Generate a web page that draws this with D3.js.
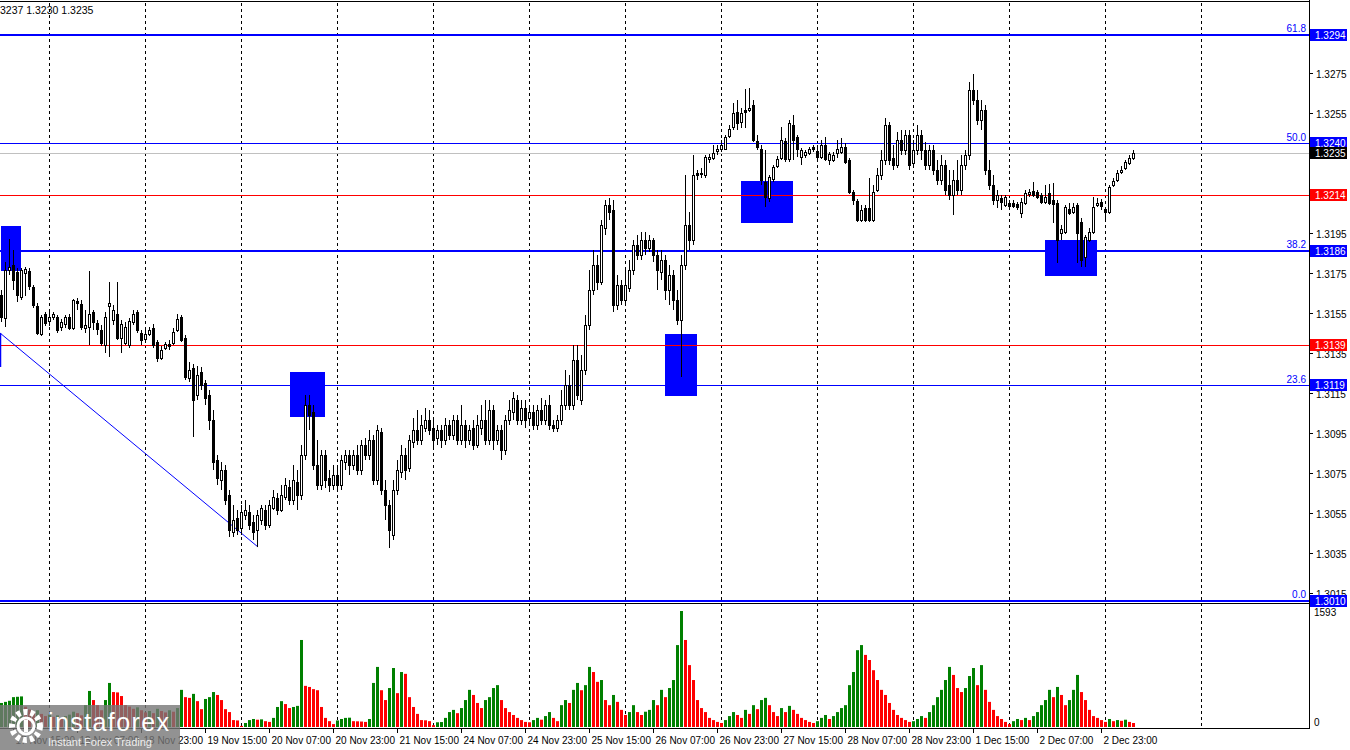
<!DOCTYPE html>
<html><head><meta charset="utf-8">
<script src="https://cdn.jsdelivr.net/npm/d3@7"></script>
<style>html,body{margin:0;padding:0;background:#fff;overflow:hidden}text{font-family:"Liberation Sans",Arial,sans-serif}</style>
</head><body><svg id="c" width="1350" height="750"></svg>
<script>
const opens=[1.3164,1.31525,1.31765,1.3179,1.31755,1.3163,1.3175,1.3176,1.3168,1.31585,
1.31445,1.31545,1.3151,1.3153,1.3153,1.3148,1.31495,1.3153,1.31475,1.3161,
1.31595,1.31475,1.3148,1.31555,1.315,1.31465,1.3139,1.31585,1.31515,1.31545,
1.31425,1.314,1.3139,1.31505,1.31555,1.3145,1.3142,1.31445,1.31475,1.31405,
1.31325,1.31375,1.31395,1.314,1.31465,1.3153,1.31425,1.31225,1.31275,1.3114,
1.31255,1.312,1.3114,1.31015,1.30815,1.30715,1.30765,1.3064,1.30455,1.30525,
1.30475,1.3054,1.30555,1.30505,1.30465,1.30515,1.30565,1.3049,1.30575,1.30625,
1.30565,1.3063,1.3068,1.30615,1.30705,1.3064,1.3084,1.3109,1.31055,1.3079,
1.3069,1.3084,1.30725,1.3069,1.3074,1.3069,1.30805,1.3084,1.3079,1.3084,
1.30765,1.3089,1.3084,1.30915,1.30715,1.30955,1.30665,1.3059,1.3044,1.30665,
1.30755,1.3084,1.30775,1.30905,1.30965,1.30915,1.30975,1.31015,1.30975,1.30925,
1.30965,1.30915,1.3099,1.3094,1.31015,1.30915,1.3099,1.30915,1.30975,1.3089,
1.30975,1.31015,1.30915,1.31065,1.30915,1.30965,1.30865,1.31015,1.31055,1.31115,
1.31015,1.31075,1.31025,1.31055,1.3099,1.31065,1.31015,1.3109,1.3099,1.30975,
1.31015,1.3109,1.3119,1.3109,1.31315,1.31115,1.31265,1.3149,1.31665,1.3179,
1.31705,1.31975,1.3209,1.32065,1.3159,1.3169,1.31615,1.31675,1.31765,1.3189,
1.3184,1.31915,1.31875,1.31915,1.3184,1.31755,1.31815,1.31665,1.3174,1.31615,
1.31515,1.3179,1.3199,1.31915,1.3225,1.3225,1.3224,1.3232,1.32325,1.3236,
1.3237,1.3237,1.32435,1.3248,1.32555,1.32505,1.32565,1.32565,1.3259,1.3241,
1.3237,1.32205,1.32125,1.3222,1.32285,1.32325,1.3241,1.3232,1.3249,1.3243,
1.3233,1.3234,1.3235,1.3238,1.3236,1.3233,1.3239,1.32315,1.32315,1.3235,
1.32355,1.3238,1.32315,1.32155,1.3211,1.32015,1.32075,1.32075,1.32015,1.32165,
1.3224,1.32315,1.3249,1.32325,1.3229,1.32415,1.32365,1.3244,1.323,1.32365,
1.3244,1.32365,1.3229,1.32365,1.32265,1.32215,1.3229,1.3219,1.3214,1.32215,
1.32165,1.3229,1.3234,1.32665,1.32615,1.32515,1.32565,1.32265,1.3219,1.32115,
1.32125,1.3209,1.321,1.321,1.32095,1.3205,1.321,1.32145,1.3216,1.32155,
1.3214,1.32105,1.3215,1.32115,1.321,1.3195,1.31955,1.3207,1.32055,1.3209,
1.32005,1.3183,1.31915,1.31955,1.3209,1.32105,1.3207,1.32055,1.3219,1.32215,
1.32255,1.32275,1.323,1.32325];
const highs=[1.31665,1.31805,1.3192,1.31865,1.31775,1.31775,1.3178,1.31775,1.3169,1.316,
1.3154,1.31555,1.31565,1.31555,1.3154,1.3152,1.3154,1.31545,1.3162,1.31625,
1.31615,1.31565,1.3176,1.31565,1.31515,1.3149,1.31555,1.31705,1.3159,1.31705,
1.31515,1.31505,1.31525,1.31565,1.31565,1.31465,1.31465,1.3148,1.31495,1.31415,
1.31385,1.31405,1.31415,1.31475,1.31545,1.3154,1.3144,1.31305,1.31295,1.31285,
1.3128,1.31215,1.31165,1.31065,1.3084,1.30805,1.3079,1.30665,1.3059,1.30565,
1.3059,1.30615,1.3059,1.3054,1.30565,1.3059,1.3059,1.30615,1.30665,1.3065,
1.3069,1.30725,1.30715,1.3079,1.30765,1.3089,1.3114,1.3114,1.3109,1.30915,
1.30865,1.30865,1.30765,1.3079,1.3079,1.3084,1.30865,1.30865,1.30865,1.3089,
1.30915,1.30925,1.30965,1.3094,1.3099,1.30975,1.30715,1.30615,1.30715,1.30815,
1.3089,1.30875,1.3094,1.31025,1.31065,1.3104,1.31075,1.31065,1.31015,1.3099,
1.3099,1.31025,1.31015,1.3104,1.3104,1.3109,1.31015,1.3099,1.31015,1.3104,
1.3109,1.31115,1.31115,1.3109,1.3099,1.3099,1.3104,1.31115,1.31155,1.3114,
1.31115,1.31115,1.3109,1.3109,1.3109,1.31125,1.31115,1.3114,1.31015,1.3104,
1.31165,1.31265,1.3124,1.3139,1.3139,1.3134,1.3154,1.31765,1.31865,1.3184,
1.32015,1.32115,1.32125,1.32115,1.3174,1.31715,1.31765,1.31815,1.31915,1.3194,
1.31955,1.31955,1.3194,1.31925,1.31865,1.31865,1.3184,1.3179,1.31765,1.31665,
1.3184,1.3224,1.32055,1.3234,1.32265,1.32275,1.3234,1.32345,1.3239,1.3239,
1.32415,1.3244,1.3249,1.326,1.32615,1.32575,1.3267,1.32675,1.32615,1.3244,
1.3239,1.32365,1.3224,1.3229,1.32335,1.3248,1.32425,1.32515,1.3254,1.3244,
1.32375,1.32365,1.3238,1.3239,1.3239,1.32415,1.3243,1.32355,1.32355,1.32415,
1.32425,1.324,1.32325,1.32165,1.3212,1.3209,1.3209,1.32225,1.3219,1.32275,
1.32365,1.32525,1.32505,1.3239,1.32455,1.32465,1.32465,1.32465,1.32415,1.3249,
1.32465,1.32405,1.3239,1.3239,1.32315,1.3234,1.32315,1.32265,1.32265,1.32315,
1.3234,1.32365,1.32705,1.32745,1.32665,1.32615,1.3259,1.32315,1.3224,1.32165,
1.3214,1.3214,1.32115,1.32115,1.32105,1.32125,1.32165,1.3217,1.32205,1.32165,
1.3215,1.3219,1.32195,1.322,1.32115,1.3199,1.3209,1.321,1.321,1.321,
1.32025,1.3194,1.31975,1.3213,1.32125,1.3212,1.3208,1.3219,1.32225,1.32265,
1.32285,1.32315,1.3234,1.32365];
const lows=[1.31505,1.3148,1.3174,1.31665,1.31605,1.31615,1.31635,1.31665,1.31575,1.3144,
1.31435,1.31485,1.31485,1.31515,1.3145,1.3146,1.31475,1.31465,1.31465,1.31565,
1.31465,1.3145,1.3139,1.31465,1.3144,1.31385,1.3135,1.3133,1.3149,1.31415,
1.3135,1.3139,1.31375,1.3149,1.3145,1.3139,1.314,1.31435,1.31375,1.31305,
1.31315,1.31365,1.31365,1.3139,1.31455,1.31405,1.31215,1.31205,1.3093,1.31115,
1.31165,1.3109,1.30965,1.30765,1.3069,1.30665,1.3059,1.3043,1.3043,1.3044,
1.3044,1.30515,1.30465,1.30415,1.3038,1.3049,1.30465,1.30475,1.30565,1.3054,
1.30555,1.30615,1.3059,1.3059,1.30565,1.30615,1.30815,1.30965,1.30765,1.30665,
1.30665,1.30675,1.30655,1.30665,1.30665,1.30665,1.30765,1.3074,1.30765,1.3074,
1.3074,1.30815,1.30815,1.3069,1.3069,1.3064,1.30515,1.30375,1.30415,1.3064,
1.30725,1.30715,1.30755,1.30875,1.3089,1.3089,1.30955,1.3094,1.30865,1.3089,
1.30875,1.3089,1.30915,1.30915,1.3089,1.3089,1.30875,1.3089,1.30865,1.30875,
1.3094,1.3089,1.3089,1.30865,1.3089,1.30815,1.3084,1.3099,1.31015,1.3099,
1.3099,1.30975,1.3099,1.30965,1.30965,1.3099,1.3099,1.30965,1.30955,1.30955,
1.3099,1.31065,1.31065,1.31065,1.31115,1.3109,1.3124,1.31465,1.3164,1.31665,
1.3169,1.3194,1.32015,1.31555,1.31565,1.3159,1.3159,1.31655,1.3174,1.31815,
1.31815,1.3184,1.31855,1.31805,1.31665,1.31715,1.31615,1.3159,1.31565,1.3149,
1.3123,1.31765,1.31865,1.3189,1.32215,1.32225,1.32225,1.323,1.32315,1.3234,
1.32355,1.32365,1.32425,1.32465,1.32465,1.32475,1.32475,1.32555,1.32405,1.32365,
1.3219,1.3208,1.32105,1.32205,1.32275,1.32315,1.32305,1.32305,1.32315,1.3233,
1.3229,1.32325,1.3234,1.32355,1.32315,1.3232,1.3231,1.3229,1.32305,1.32325,
1.32345,1.32295,1.32145,1.3209,1.32005,1.32005,1.32005,1.32005,1.32005,1.32155,
1.32215,1.3229,1.3229,1.32265,1.32275,1.3234,1.3234,1.32265,1.32275,1.3234,
1.32315,1.32265,1.32265,1.3224,1.3219,1.3219,1.3214,1.32115,1.3204,1.3214,
1.3214,1.32265,1.32315,1.3259,1.3249,1.32465,1.3224,1.32165,1.3209,1.32075,
1.32065,1.3208,1.32075,1.32075,1.32065,1.32025,1.3209,1.3213,1.3213,1.3212,
1.32095,1.32095,1.3209,1.32,1.318,1.31915,1.31945,1.3204,1.32045,1.318,
1.3178,1.3178,1.31905,1.31945,1.3208,1.32065,1.32015,1.32045,1.3218,1.32205,
1.32245,1.32265,1.3229,1.32315];
const closes=[1.3153,1.31765,1.3178,1.31715,1.3164,1.31765,1.3177,1.31685,1.3159,1.3145,
1.3153,1.315,1.3153,1.31545,1.31465,1.31505,1.3153,1.31475,1.31615,1.316,
1.3148,1.3149,1.31545,1.31505,1.3147,1.314,1.3153,1.316,1.31565,1.31425,
1.31495,1.3148,1.3151,1.31545,1.31465,1.31415,1.31445,1.31465,1.3139,1.31325,
1.31365,1.31395,1.31385,1.31455,1.3152,1.31415,1.3123,1.31265,1.31115,1.3124,
1.3119,1.31125,1.31015,1.30805,1.30725,1.30765,1.30615,1.30465,1.30515,1.30465,
1.30555,1.30565,1.3049,1.30455,1.3054,1.30575,1.3049,1.3059,1.3063,1.30565,
1.3064,1.3069,1.30615,1.30715,1.3064,1.3084,1.3109,1.3104,1.3079,1.3069,
1.3084,1.30715,1.3069,1.3074,1.3069,1.30815,1.3084,1.3079,1.3084,1.30765,
1.3089,1.3084,1.30915,1.30715,1.30965,1.30665,1.3059,1.30465,1.30665,1.30765,
1.3084,1.30765,1.30915,1.30965,1.30915,1.3099,1.31015,1.30965,1.30915,1.30965,
1.30915,1.3099,1.3094,1.31015,1.30915,1.3099,1.30915,1.30965,1.3089,1.3099,
1.31015,1.30915,1.31065,1.30915,1.30965,1.30865,1.31015,1.31065,1.31125,1.31015,
1.31075,1.31015,1.31055,1.3099,1.31065,1.31015,1.3109,1.3099,1.30975,1.31015,
1.3109,1.3119,1.3109,1.31315,1.3114,1.31265,1.3149,1.31665,1.3179,1.31705,
1.3199,1.3209,1.32055,1.3159,1.3169,1.31615,1.3169,1.31765,1.3189,1.3184,
1.31915,1.31875,1.31915,1.3184,1.31765,1.31815,1.31665,1.3174,1.31615,1.31515,
1.3179,1.3199,1.31915,1.3224,1.3224,1.32245,1.3233,1.3233,1.3235,1.3237,
1.3239,1.3243,1.3247,1.3255,1.325,1.3255,1.32555,1.32575,1.32415,1.3238,
1.32215,1.3213,1.3223,1.3228,1.3232,1.32415,1.3232,1.325,1.32415,1.3237,
1.32365,1.32355,1.3237,1.3237,1.3233,1.3239,1.3232,1.32345,1.3234,1.3237,
1.3238,1.32305,1.32155,1.32115,1.32015,1.32065,1.32015,1.32015,1.32155,1.3224,
1.32315,1.3249,1.32315,1.3229,1.32415,1.32365,1.3244,1.3229,1.32365,1.3244,
1.32365,1.3229,1.32365,1.32265,1.32215,1.3229,1.32165,1.3214,1.32215,1.32165,
1.3229,1.3234,1.32665,1.32615,1.32515,1.32565,1.32265,1.3219,1.32115,1.3214,
1.32105,1.3213,1.32085,1.32085,1.3208,1.32105,1.3215,1.32155,1.3214,1.3213,
1.32105,1.3213,1.321,1.32095,1.31915,1.3197,1.3208,1.3205,1.3208,1.3195,
1.31815,1.3193,1.31955,1.3208,1.321,1.32085,1.32055,1.3218,1.3221,1.3225,
1.32265,1.32305,1.32325,1.3235];
const volumes=[330,345,360,410,415,420,280,240,200,230,180,150,170,140,160,130,150,170,210,190,
160,300,495,370,300,230,370,605,480,475,425,300,280,250,270,230,200,220,190,250,
220,200,230,210,260,510,410,400,455,355,245,385,410,480,440,370,245,205,95,90,
15,55,95,110,100,105,80,70,125,275,355,315,260,275,290,1195,565,550,520,505,
275,125,80,40,90,110,125,128,80,78,75,70,110,605,825,505,370,535,810,465,
755,730,410,275,180,95,92,80,25,65,68,125,205,235,190,260,370,510,440,330,
260,370,410,535,575,370,260,205,165,125,95,70,65,95,125,100,150,205,125,80,
300,370,330,510,605,505,575,825,755,620,645,370,300,440,345,235,165,205,300,205,
165,210,235,370,300,510,410,535,645,1125,1593,1195,850,645,370,260,205,125,95,70,
55,95,150,205,165,125,235,180,300,245,370,400,300,205,150,260,205,290,235,180,
125,95,70,55,80,125,165,110,150,205,260,300,575,755,1055,1125,990,920,780,645,
510,440,330,235,165,125,95,70,80,110,150,125,205,300,410,510,645,825,715,535,
480,535,700,810,575,850,510,345,235,150,110,70,40,80,110,95,125,95,150,205,
300,370,510,410,550,440,300,370,510,715,480,370,235,150,125,95,70,110,80,95,
85,100,70,55];
const tickLabels=["17 Nov 15:00","18 Nov 07:00","18 Nov 23:00","19 Nov 15:00","20 Nov 07:00","20 Nov 23:00","21 Nov 15:00","24 Nov 07:00","24 Nov 23:00","25 Nov 15:00","26 Nov 07:00","26 Nov 23:00","27 Nov 15:00","28 Nov 07:00","28 Nov 23:00","1 Dec 15:00","2 Dec 07:00","2 Dec 23:00"];
const tickBars=[3,19,35,51,67,83,99,115,131,147,163,179,195,211,227,243,259,275];
const dayStartBars=[12,36,60,84,108,132,156,180,204,228,252,276,300];
const priceTicks=[1.3015,1.3035,1.3055,1.3075,1.3095,1.3115,1.3135,1.3155,1.3175,1.3195,1.3215,1.3235,1.3255,1.3275];
const levelPrices=[1.3294,1.3240,1.3235,1.3214,1.3186,1.3139,1.3119,1.3010];
const levelFib=["61.8","50.0","","","38.2","","23.6","0.0"];
const levelColor=["#0000ff","#0000ff","#c0c0c0","#ff0000","#0000ff","#ff0000","#0000ff","#0000ff"];
const tagColor=["#0000ff","#0000ff","#000000","#ff0000","#0000ff","#ff0000","#0000ff","#0000ff"];
const levelWidth=[2,1,1,1,2,1,1,2];
const levelShift=[0,0,0,0,0,0,0,-2];
const boxStart=[0.25,72.5,166.25,185.25,261.25];
const boxEnd=[5.25,81.25,174.25,198.25,274.25];
const boxTop=[1.31985,1.31255,1.31445,1.3221,1.31915];
const boxBottom=[1.3176,1.3103,1.31135,1.32,1.31735];
const trendBars=[0,64.5], trendPrices=[1.3145,1.3038];
const volMax=1593;

const svg=d3.select("#c");
const W=1309;
const x=d3.scaleLinear().domain([0,1]).range([0,4]);
const y=d3.scaleLinear().domain([1.3,1.33]).range([623,23]);
const yv=d3.scaleLinear().domain([0,volMax]).range([727,611]);
const px=i=>Math.round(x(i));

// boxes
svg.append("g").selectAll("rect").data(boxStart).join("rect")
 .attr("x",(d,i)=>x(d)).attr("width",(d,i)=>x(boxEnd[i])-x(d))
 .attr("y",(d,i)=>y(boxTop[i])).attr("height",(d,i)=>y(boxBottom[i])-y(boxTop[i]))
 .attr("fill","#0000ff");

// day separators
svg.append("g").selectAll("line").data(dayStartBars).join("line")
 .attr("x1",d=>px(d)+1.5).attr("x2",d=>px(d)+1.5).attr("y1",3).attr("y2",728)
 .attr("stroke","#000").attr("stroke-dasharray","3,3");

// levels
const lg=svg.append("g");
levelPrices.forEach((p,i)=>{
  const yy=Math.round(y(p))+levelShift[i]+(levelWidth[i]===1?0.5:0);
  lg.append("line").attr("x1",0).attr("x2",W).attr("y1",yy).attr("y2",yy)
   .attr("stroke",levelColor[i]).attr("stroke-width",levelWidth[i]);
  if(levelFib[i]) lg.append("text").attr("x",W-3).attr("y",yy-3).attr("text-anchor","end")
   .attr("font-size",10).attr("fill","#0000ff").text(levelFib[i]);
});

// trend line
svg.append("line").attr("x1",x(trendBars[0])).attr("y1",y(trendPrices[0]))
 .attr("x2",x(trendBars[1])).attr("y2",y(trendPrices[1])).attr("stroke","#0000ff").attr("stroke-width",1);
svg.append("line").attr("x1",0.5).attr("x2",0.5).attr("y1",y(trendPrices[0])).attr("y2",y(1.3128))
 .attr("stroke","#0000ff").attr("stroke-width",1.5);

// candles
const cg=svg.append("g");
cg.selectAll("line").data(closes).join("line")
 .attr("x1",(d,i)=>px(i)+1.5).attr("x2",(d,i)=>px(i)+1.5)
 .attr("y1",(d,i)=>y(highs[i])).attr("y2",(d,i)=>y(lows[i])).attr("stroke","#000");
cg.selectAll("rect").data(closes).join("rect")
 .attr("x",(d,i)=>px(i)+0.5).attr("width",2)
 .attr("y",(d,i)=>Math.round(y(Math.max(opens[i],d)))+0.5)
 .attr("height",(d,i)=>Math.max(0,Math.round(y(Math.min(opens[i],d)))-Math.round(y(Math.max(opens[i],d)))))
 .attr("fill",(d,i)=>d>=opens[i]?"#fff":"#000").attr("stroke","#000");

// volumes
svg.append("g").selectAll("rect").data(volumes).join("rect")
 .attr("x",(d,i)=>px(i)).attr("width",3)
 .attr("y",d=>yv(d)).attr("height",d=>yv(0)-yv(d))
 .attr("fill",(d,i)=>i>0&&d<volumes[i-1]?"#ff0000":"#008000");

// frame
svg.append("line").attr("x1",0).attr("x2",W).attr("y1",1.5).attr("y2",1.5).attr("stroke","#000");
svg.append("line").attr("x1",0).attr("x2",W).attr("y1",603.5).attr("y2",603.5).attr("stroke","#000");
svg.append("line").attr("x1",0).attr("x2",W).attr("y1",728.5).attr("y2",728.5).attr("stroke","#000");
svg.append("line").attr("x1",W+0.5).attr("x2",W+0.5).attr("y1",0).attr("y2",729).attr("stroke","#000");

// price axis ticks
const ag=svg.append("g");
priceTicks.forEach(p=>{
  const yy=Math.round(y(p))+0.5;
  ag.append("line").attr("x1",W).attr("x2",W+4).attr("y1",yy).attr("y2",yy).attr("stroke","#000");
  ag.append("text").attr("x",W+7).attr("y",yy+4).attr("font-size",10).attr("fill","#000").text(p.toFixed(4));
});
// tags
levelPrices.forEach((p,i)=>{
  const yy=Math.round(y(p))+levelShift[i];
  ag.append("rect").attr("x",W+1).attr("y",yy-6).attr("width",37).attr("height",12).attr("fill",tagColor[i]);
  ag.append("text").attr("x",W+6).attr("y",yy+4).attr("font-size",10).attr("fill","#fff").text(p.toFixed(4));
});
// volume axis
ag.append("text").attr("x",W+5).attr("y",616).attr("font-size",10).attr("fill","#000").text(String(volMax));
ag.append("text").attr("x",W+5).attr("y",726).attr("font-size",10).attr("fill","#000").text("0");

// time axis
const tg=svg.append("g");
tickBars.forEach((b,k)=>{
  const xx=px(b)+1.5;
  tg.append("line").attr("x1",xx).attr("x2",xx).attr("y1",729).attr("y2",733).attr("stroke","#000");
  tg.append("text").attr("x",xx+2).attr("y",744).attr("font-size",10).attr("fill","#000").text(tickLabels[k]);
});

// top info
svg.append("text").attr("x",0).attr("y",14).attr("font-size",10.5).attr("fill","#000").text("3237 1.3230 1.3235");

// logo
const logo=svg.append("g");
logo.append("rect").attr("x",0).attr("y",705).attr("width",180).attr("height",45).attr("fill","#777").attr("opacity",0.8);
logo.append("circle").attr("cx",26).attr("cy",726).attr("r",14).attr("fill","none").attr("stroke","#fff").attr("stroke-width",6).attr("stroke-dasharray","4,3");
logo.append("circle").attr("cx",26).attr("cy",726).attr("r",8).attr("fill","none").attr("stroke","#fff").attr("stroke-width",3);
logo.append("rect").attr("x",24).attr("y",720).attr("width",4).attr("height",12).attr("fill","#fff");
logo.append("text").attr("x",48).attr("y",731).attr("font-size",25).attr("letter-spacing",1.4).attr("fill","#fff").text("instaforex");
logo.append("text").attr("x",48).attr("y",746).attr("font-size",11).attr("fill","#eee").text("Instant Forex Trading");
</script></body></html>
